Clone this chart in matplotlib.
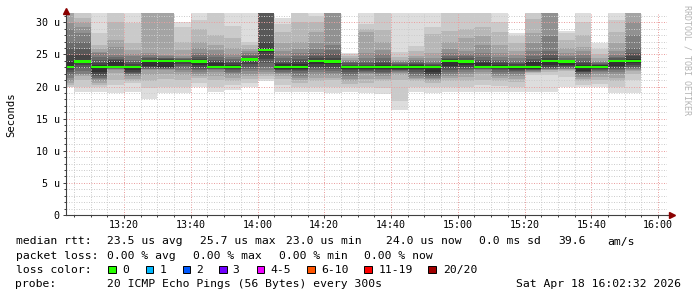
import numpy as np
import pandas as pd
import matplotlib
matplotlib.use("Agg")
import matplotlib.pyplot as plt
import matplotlib.dates as mdates
from matplotlib.ticker import MultipleLocator, FuncFormatter
from matplotlib.patches import Rectangle

W, H = 697, 297
MONO = "DejaVu Sans Mono"

# 測定時刻 (5分毎, 各区間の終わり)
end_times = pd.date_range("2026-04-18 13:05", "2026-04-18 15:55", freq="5min")

# median rtt [us]
median_us = [23.1, 23.9, 23.0, 23.0, 23.0, 24.0, 24.0, 24.0, 23.9, 23.1,
             23.1, 24.2, 25.7, 23.0, 23.1, 24.0, 23.9, 23.0, 23.0, 23.0,
             23.0, 23.0, 23.1, 24.0, 23.9, 23.0, 23.0, 23.0, 23.1, 24.0,
             23.9, 23.0, 23.1, 24.0, 24.0]

# packet loss (pings lost of 20)
loss_count = [0] * 35

# 20 pings per step, sorted [us] (values above the top are cut off)
pings_us = [
    [19.9, 20.0, 20.2, 20.5, 20.9, 21.3, 21.8, 22.2, 22.6, 23.0, 24.0, 24.9, 26.0, 27.0, 28.9, 29.9, 33, 33, 33, 33],
    [19.1, 19.9, 21.0, 21.6, 21.8, 22.0, 22.4, 22.9, 23.3, 23.6, 24.1, 24.9, 25.8, 26.9, 28.3, 29.3, 30.0, 30.6, 33, 33],
    [19.1, 19.9, 20.3, 20.6, 20.9, 21.1, 21.4, 21.6, 21.9, 22.2, 23.3, 23.6, 24.1, 24.6, 25.2, 25.4, 25.8, 26.5, 28.3, 33],
    [19.0, 20.3, 21.0, 22.1, 22.5, 22.8, 22.8, 22.9, 22.9, 23.1, 23.9, 24.1, 24.3, 24.6, 24.9, 26.1, 27.3, 30.1, 33, 33],
    [19.1, 20.5, 20.9, 21.2, 21.7, 21.9, 22.0, 22.1, 22.2, 22.6, 23.2, 23.5, 23.8, 24.2, 24.7, 25.0, 25.7, 26.7, 29.9, 33],
    [18.0, 19.7, 20.8, 21.8, 22.5, 22.7, 22.8, 22.9, 23.0, 23.2, 24.1, 24.2, 24.4, 24.6, 24.9, 25.2, 33, 33, 33, 33],
    [19.0, 19.9, 21.1, 22.0, 22.5, 22.7, 22.8, 22.9, 22.9, 23.0, 24.2, 24.3, 24.4, 24.5, 24.7, 24.9, 33, 33, 33, 33],
    [19.0, 19.9, 21.0, 21.8, 22.3, 22.5, 22.9, 23.2, 23.5, 23.8, 24.1, 24.2, 24.3, 24.4, 24.5, 24.8, 25.7, 27.0, 29.3, 30.1],
    [19.9, 20.5, 21.3, 21.6, 22.0, 22.3, 22.5, 22.8, 23.1, 23.4, 24.1, 24.3, 24.6, 24.9, 25.2, 26.0, 27.0, 28.9, 30.3, 33],
    [19.1, 19.9, 21.0, 21.7, 22.2, 22.5, 22.7, 22.8, 22.9, 23.0, 23.6, 23.9, 24.2, 24.6, 25.0, 25.7, 26.5, 28.0, 33, 33],
    [19.4, 20.3, 20.9, 21.4, 21.8, 22.1, 22.3, 22.5, 22.7, 22.9, 23.4, 23.7, 24.0, 24.3, 24.6, 25.0, 26.0, 27.5, 29.5, 33],
    [20.0, 20.6, 21.2, 21.6, 22.0, 22.4, 22.7, 23.0, 23.5, 24.0, 24.4, 24.5, 24.7, 24.9, 25.2, 25.5, 25.9, 26.4, 27.0, 33],
    [20.8, 21.2, 21.6, 22.0, 22.3, 22.5, 23.0, 23.6, 24.3, 25.4, 26.0, 27.0, 33, 33, 33, 33, 33, 33, 33, 33],
    [19.2, 20.2, 21.2, 21.6, 21.9, 22.1, 22.3, 22.5, 22.6, 22.8, 23.5, 23.7, 24.0, 24.4, 24.8, 25.5, 26.7, 28.5, 29.8, 30.7],
    [19.1, 19.9, 20.5, 21.0, 21.4, 21.7, 22.1, 22.4, 22.6, 22.8, 23.5, 23.9, 24.3, 24.7, 25.2, 25.9, 27.0, 30.0, 33, 33],
    [19.1, 19.9, 20.8, 21.4, 21.8, 22.2, 22.6, 22.9, 23.1, 23.5, 24.2, 24.5, 24.8, 25.2, 25.8, 26.7, 28.5, 30.0, 31.0, 33],
    [19.0, 19.9, 21.0, 21.4, 21.8, 22.1, 22.4, 22.7, 23.0, 23.5, 24.2, 24.5, 25.0, 25.7, 26.5, 33, 33, 33, 33, 33],
    [19.1, 19.9, 20.4, 20.8, 21.2, 21.6, 21.9, 22.2, 22.5, 22.8, 23.2, 23.4, 23.6, 23.8, 24.0, 24.2, 24.5, 24.8, 25.0, 25.2],
    [19.0, 20.0, 20.5, 21.2, 21.9, 22.1, 22.2, 22.4, 22.6, 22.8, 23.2, 23.4, 23.6, 24.0, 24.5, 25.2, 28.5, 29.0, 29.8, 33],
    [18.8, 19.8, 20.8, 21.2, 21.6, 21.9, 22.1, 22.3, 22.5, 22.8, 23.3, 23.6, 24.0, 24.5, 25.0, 25.7, 27.0, 28.8, 33, 33],
    [16.3, 17.8, 21.0, 21.8, 22.1, 22.3, 22.4, 22.5, 22.6, 22.8, 23.2, 23.4, 23.5, 23.6, 23.8, 24.0, 24.2, 24.6, 25.3, 33],
    [19.1, 20.0, 20.9, 21.2, 21.4, 21.7, 22.0, 22.3, 22.6, 22.8, 23.3, 23.5, 23.7, 23.9, 24.1, 24.4, 24.8, 25.5, 26.3, 33],
    [19.0, 20.0, 20.6, 20.9, 21.2, 21.4, 21.6, 21.8, 22.0, 22.2, 23.2, 23.4, 23.5, 23.7, 24.0, 24.4, 25.2, 28.2, 29.3, 33],
    [19.1, 20.0, 20.8, 21.3, 21.7, 22.0, 22.3, 22.6, 22.9, 23.2, 24.1, 24.3, 24.5, 24.8, 25.2, 25.9, 27.0, 28.6, 33, 33],
    [19.1, 20.0, 20.9, 21.5, 22.0, 22.3, 22.6, 22.8, 23.0, 23.4, 24.0, 24.2, 24.4, 24.7, 25.0, 25.5, 27.5, 29.0, 33, 33],
    [19.1, 20.2, 21.0, 21.9, 22.3, 22.6, 22.7, 22.8, 22.9, 23.0, 23.6, 23.9, 24.2, 24.6, 25.2, 26.5, 27.8, 29.2, 33, 33],
    [19.1, 20.1, 20.9, 21.4, 21.7, 22.0, 22.3, 22.5, 22.7, 22.9, 23.3, 23.6, 23.9, 24.2, 24.6, 25.2, 26.5, 28.5, 30.0, 33],
    [19.1, 19.9, 20.7, 21.2, 21.6, 22.0, 22.2, 22.4, 22.6, 22.8, 23.2, 23.5, 23.7, 24.0, 24.4, 24.9, 25.6, 26.8, 27.8, 28.4],
    [19.1, 21.8, 22.1, 22.2, 22.3, 22.4, 22.5, 22.6, 22.7, 22.8, 23.8, 24.0, 24.3, 24.7, 25.5, 26.7, 28.3, 30.5, 33, 33],
    [19.1, 21.8, 22.3, 22.5, 22.6, 22.7, 22.8, 22.9, 23.0, 23.3, 24.2, 24.5, 24.9, 25.5, 27.8, 33, 33, 33, 33, 33],
    [19.9, 21.5, 22.4, 22.6, 22.7, 22.8, 22.9, 23.0, 23.2, 23.4, 24.0, 24.1, 24.2, 24.4, 24.7, 25.2, 26.0, 27.3, 28.3, 28.7],
    [19.9, 20.3, 20.8, 21.2, 21.5, 21.8, 22.0, 22.2, 22.3, 22.4, 23.4, 23.7, 24.0, 24.4, 24.9, 25.5, 26.2, 28.0, 30.0, 33],
    [19.9, 20.4, 21.0, 21.5, 21.9, 22.2, 22.4, 22.6, 22.7, 22.9, 23.3, 23.4, 23.5, 23.6, 23.8, 24.0, 24.4, 25.0, 25.8, 26.7],
    [19.0, 20.0, 20.9, 21.4, 21.9, 22.2, 22.5, 22.7, 22.9, 23.2, 24.1, 24.2, 24.4, 24.6, 24.9, 25.5, 26.7, 28.5, 30.4, 33],
    [19.0, 21.0, 22.0, 22.4, 22.6, 22.8, 22.9, 23.1, 23.3, 23.6, 24.3, 24.7, 25.2, 26.0, 28.0, 30.0, 33, 33, 33, 33],
]

# 凡例
loss_labels = ["0", "1", "2", "3", "4-5", "6-10", "11-19", "20/20"]
loss_colors = ["#26ff00", "#00b8ff", "#0059ff", "#7000ff", "#f000ff", "#ff5500", "#ff0000", "#a10000"]
loss_limits = [0, 1, 2, 3, 5, 10, 19, 20]

median_stats = ["23.5 us avg", "25.7 us max", "23.0 us min", "24.0 us now", "0.0 ms sd", "39.6", "am/s"]
loss_stats = ["0.00 % avg", "0.00 % max", "0.00 % min", "0.00 % now"]
probe_text = "20 ICMP Echo Pings (56 Bytes) every 300s"
stamp_text = "Sat Apr 18 16:02:32 2026"

t_start = pd.Timestamp("2026-04-18 13:02:32")
t_end = pd.Timestamp("2026-04-18 16:02:32")


def px(x, y):
    """画像のピクセル座標 -> figure座標"""
    return x / W, 1 - y / H


fig = plt.figure(figsize=(W / 100, H / 100), dpi=100)
fig.patch.set_facecolor("white")

ax_l, ax_r, ax_t, ax_b = 65.7, 666.5, 13.3, 215.0
ax = fig.add_axes([ax_l / W, 1 - ax_b / H, (ax_r - ax_l) / W, (ax_b - ax_t) / H])
ax.set_facecolor("white")

pings = np.array(pings_us)
step = pd.Timedelta(minutes=5)
x0 = mdates.date2num(end_times - step)
width = mdates.date2num(end_times[0]) - x0[0]

# smoke: 外側ほど明るい灰色
for i in range(10):
    g = (221 - 19 * i) / 255
    lo = pings[:, i]
    hi = pings[:, 19 - i]
    ax.bar(x0, hi - lo, bottom=lo, width=width, align="edge",
           color=(g, g, g), linewidth=0, zorder=1)

# median (loss色)
sw = 0.17
med = np.array(median_us)
med_colors = [loss_colors[np.searchsorted(loss_limits, c)] for c in loss_count]
ax.bar(x0, 2 * sw, bottom=med - sw, width=width, align="edge",
       color=med_colors, linewidth=0, zorder=3)

ax.set_xlim(mdates.date2num(t_start), mdates.date2num(t_end))
ax.set_ylim(0, 31.4)

ax.xaxis.set_major_locator(mdates.MinuteLocator(byminute=[0, 20, 40]))
ax.xaxis.set_minor_locator(mdates.MinuteLocator(byminute=range(0, 60, 5)))
ax.xaxis.set_major_formatter(mdates.DateFormatter("%H:%M"))
ax.yaxis.set_major_locator(MultipleLocator(5))
ax.yaxis.set_minor_locator(MultipleLocator(1))
ax.yaxis.set_major_formatter(FuncFormatter(lambda v, p: "0" if v == 0 else f"{v:g} u"))

# グリッド (点線)
ax.set_axisbelow(False)
ax.grid(which="minor", color="#cdcdcd", lw=0.72, ls=(0, (1, 1.5)))
ax.grid(which="major", color="#eba0a0", lw=0.72, ls=(0, (1, 1.5)))

for s in ["top", "right"]:
    ax.spines[s].set_visible(False)
for s in ["left", "bottom"]:
    ax.spines[s].set_color("#404040")
    ax.spines[s].set_linewidth(0.8)
    ax.spines[s].set_zorder(4)

ax.tick_params(which="major", length=2.2, width=0.72, color="#404040",
               labelsize=7.2, labelcolor="#000000")
ax.tick_params(which="minor", length=1.4, width=0.72, color="#404040")
ax.tick_params(axis="x", which="major", pad=1.2)
ax.tick_params(axis="y", which="major", pad=2.0)
for lab in ax.get_xticklabels() + ax.get_yticklabels():
    lab.set_fontfamily(MONO)

# 矢印
ax.plot([1.0, 1.008], [0, 0], transform=ax.transAxes, color="#404040",
        lw=0.8, clip_on=False, zorder=4)
ax.plot([1.0095], [0], marker=">", ms=3.8, color="#8b0000", mec="#8b0000",
        transform=ax.transAxes, clip_on=False, zorder=5)
ax.plot([0], [1.013], marker="^", ms=3.8, color="#8b0000", mec="#8b0000",
        transform=ax.transAxes, clip_on=False, zorder=5)

# 軸ラベル, クレジット
fig.text(*px(10.8, 115), "Seconds", rotation=90, ha="center", va="center",
         fontsize=7.6, family=MONO)
fig.text(*px(687.5, 60), "RRDTOOL / TOBI OETIKER", rotation=270, ha="center",
         va="center", fontsize=6.0, family=MONO, color="#b4b4b4")

# 凡例テキスト
fs = 8.2
row_y = [244.5, 258.8, 273.0, 287.0]
fig.text(*px(15.5, row_y[0]), "median rtt:", fontsize=fs, family=MONO, va="baseline")
for xx, s in zip([107, 199.5, 285.5, 386, 479, 558, 607.5], median_stats):
    fig.text(*px(xx, row_y[0]), s, fontsize=fs, family=MONO, va="baseline")

fig.text(*px(15.5, row_y[1]), "packet loss:", fontsize=fs, family=MONO, va="baseline")
for xx, s in zip([107, 193, 279, 364.5], loss_stats):
    fig.text(*px(xx, row_y[1]), s, fontsize=fs, family=MONO, va="baseline")

fig.text(*px(15.5, row_y[2]), "loss color:", fontsize=fs, family=MONO, va="baseline")
box_x = [108.3, 145.7, 182.7, 219.3, 256.7, 307.3, 364.3, 428.3]
lab_x = [122.7, 159.4, 196.1, 232.7, 270.1, 321.1, 378.7, 442.7]
for bx, lx, lab, col in zip(box_x, lab_x, loss_labels, loss_colors):
    fig.add_artist(Rectangle(px(bx, 273.0), 7.7 / W, 7.5 / H, transform=fig.transFigure,
                             facecolor=col, edgecolor="black", lw=0.7))
    fig.text(*px(lx, row_y[2]), lab, fontsize=fs, family=MONO, va="baseline")

fig.text(*px(15.5, row_y[3]), "probe:", fontsize=fs, family=MONO, va="baseline")
fig.text(*px(107, row_y[3]), probe_text, fontsize=fs, family=MONO, va="baseline")
fig.text(*px(681, row_y[3]), stamp_text, fontsize=fs, family=MONO, va="baseline", ha="right")

fig.savefig("out.png", dpi=100)
